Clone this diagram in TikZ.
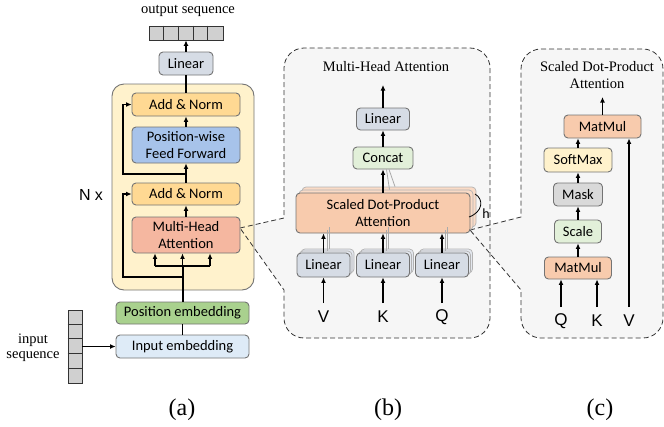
\documentclass[tikz,border=0pt]{standalone}
\usepackage{fontspec}
\setmainfont{Liberation Serif}
\setsansfont{Carlito}
\newfontfamily\arialfont{Liberation Sans}
\usetikzlibrary{arrows.meta,calc}

\definecolor{panelyellow}{HTML}{FFF2CC}
\definecolor{panelgray}{HTML}{F6F6F6}
\definecolor{boxline}{HTML}{747474}
\definecolor{addnorm}{HTML}{FFD993}
\definecolor{ffblue}{HTML}{A7C3EA}
\definecolor{mhared}{HTML}{F5B7A0}
\definecolor{sdpafill}{HTML}{F8CBAD}
\definecolor{sdpaback}{HTML}{FADBC6}
\definecolor{posgreen}{HTML}{A9D18E}
\definecolor{inblue}{HTML}{DEEBF7}
\definecolor{linfill}{HTML}{D6DCE5}
\definecolor{linback}{HTML}{E3E7EE}
\definecolor{lightgreen}{HTML}{E2F0D9}
\definecolor{softyellow}{HTML}{FFF2CC}
\definecolor{maskgray}{HTML}{D9D9D9}
\definecolor{seqgray}{HTML}{D0D0D0}
\definecolor{shadowgray}{HTML}{AAAAAA}

\newcommand\boxfont{\sffamily\fontsize{14.5}{17}\selectfont}
\newcommand\titlefont{\rmfamily\fontsize{14.5}{16}\selectfont}

\begin{document}
\begin{tikzpicture}[x=1pt,y=1pt,
  box/.style={draw=boxline, line width=0.9pt, rounded corners=4pt, inner sep=0pt,
    align=center, font=\boxfont},
  backbox/.style={draw=boxline!55, line width=0.7pt, rounded corners=4pt, inner sep=0pt},
  arr/.style={line width=1.3pt, -{Latex[length=5.5pt,width=5pt]}},
  ln/.style={line width=1.3pt},
  mainln/.style={line width=2pt},
  shadowln/.style={line width=0.8pt, draw=shadowgray},
  seq/.style={draw=black!80, line width=0.8pt, fill=seqgray, inner sep=0pt},
  seqline/.style={draw=black!80, line width=0.8pt},
  panel/.style={draw=black!80, line width=0.8pt, dash pattern=on 5pt off 3pt},
  title/.style={font=\titlefont, inner sep=0pt},
  lbl/.style={font=\arialfont\fontsize{17}{20}\selectfont, inner sep=0pt},
  captionlbl/.style={font=\rmfamily\fontsize{24}{26}\selectfont, inner sep=0pt}]
\useasboundingbox (0,0) rectangle (664,-426);

% ---------- background panels ----------
% scaled dot-product panel with its cone
\fill[panelgray] (470,-230) -- (521,-217) -- (521,-69)
  arc[start angle=180,end angle=90,radius=20] -- (643,-49)
  arc[start angle=90,end angle=0,radius=20] -- (663,-318)
  arc[start angle=0,end angle=-90,radius=20] -- (541,-338)
  arc[start angle=270,end angle=180,radius=20] -- (521,-290) -- cycle;
% multi-head panel with its cone
\fill[panelgray] (240,-228) -- (284,-218) -- (284,-68)
  arc[start angle=180,end angle=90,radius=20] -- (470,-48)
  arc[start angle=90,end angle=0,radius=20] -- (490,-318)
  arc[start angle=0,end angle=-90,radius=20] -- (304,-338)
  arc[start angle=270,end angle=180,radius=20] -- (284,-290) -- cycle;
% encoder stack
\draw[fill=panelyellow, draw=boxline, line width=0.9pt, rounded corners=12pt]
  (112,-84) rectangle (254,-290);
% dashed outlines
\draw[panel] (240,-228) -- (284,-218) -- (284,-68)
  arc[start angle=180,end angle=90,radius=20] -- (470,-48)
  arc[start angle=90,end angle=0,radius=20] -- (490,-318)
  arc[start angle=0,end angle=-90,radius=20] -- (304,-338)
  arc[start angle=270,end angle=180,radius=20] -- (284,-290) -- cycle;
\draw[panel] (470,-230) -- (521,-217) -- (521,-69)
  arc[start angle=180,end angle=90,radius=20] -- (643,-49)
  arc[start angle=90,end angle=0,radius=20] -- (663,-318)
  arc[start angle=0,end angle=-90,radius=20] -- (541,-338)
  arc[start angle=270,end angle=180,radius=20] -- (521,-290) -- cycle;

% ---------- (a) encoder ----------
\node[font=\titlefont, inner sep=0pt] (outlabel) at (188,-11) {output sequence};
\node[seq, minimum width=74pt, minimum height=14pt] (outseq) at (186,-33) {};
\foreach \i in {1,...,4}
  \draw[seqline] ($(outseq.north west)+(\i*14.8,0)$) -- ($(outseq.south west)+(\i*14.8,0)$);

\node[box, fill=linfill, minimum width=54pt, minimum height=23pt] (lina) at (186,-63.5) {Linear};
\node[box, fill=addnorm, minimum width=108pt, minimum height=23pt] (an1) at (186,-104.5) {Add \& Norm};
\node[box, fill=ffblue, minimum width=108pt, minimum height=36pt] (ff) at (186,-145) {Position-wise\\Feed Forward};
\node[box, fill=addnorm, minimum width=108pt, minimum height=22pt] (an2) at (186,-194) {Add \& Norm};
\node[box, fill=mhared, minimum width=108pt, minimum height=36pt] (mha) at (186,-235) {Multi-Head\\Attention};
\node[box, fill=posgreen, minimum width=133pt, minimum height=22pt] (pe) at (182.5,-313) {Position embedding};
\node[box, fill=inblue, minimum width=133pt, minimum height=23pt] (ie) at (182.5,-346.5) {Input embedding};

\node[font=\arialfont\fontsize{16}{18}\selectfont, inner sep=0pt] (nx) at (91,-195) {N x};

\node[seq, minimum width=14pt, minimum height=73pt] (inseq) at (75,-346.5) {};
\foreach \i in {1,...,4}
  \draw[seqline] ($(inseq.north west)+(0,-\i*14.6)$) -- ($(inseq.north east)+(0,-\i*14.6)$);
\node[font=\titlefont, inner sep=0pt, align=center] (inlabel) at (33,-348) {input\\[-1pt]sequence};

% connectors of the encoder
\coordinate (ja) at (155,-266);
\coordinate (jm) at (182.5,-266);
\coordinate (jc) at (210,-266);
\coordinate (r2) at (182.5,-277);
\coordinate (rl2) at (123,-277);
\coordinate (r1) at (186,-174);
\coordinate (rl1) at (123,-174);

\draw[ln] (ie.north) -- (pe.south);
\draw[mainln] (pe.north) -- (jm);
\draw[ln] (ja) -- (jc);
\draw[arr] (ja) -- (ja |- mha.south);
\draw[arr] (jm) -- (jm |- mha.south);
\draw[arr] (jc) -- (jc |- mha.south);
\draw[arr] (r2) -- (rl2) |- (an2.west);
\draw[arr] (mha.north) -- (an2.south);
\draw[arr] (an2.north) -- (ff.south);
\draw[arr] (r1) -- (rl1) |- (an1.west);
\draw[arr] (ff.north) -- (an1.south);
\draw[ln] (an1.north) -- (lina.south);
\draw[arr] (lina.north) -- (outseq.south);
\draw[arr] (inseq.east) -- (ie.west);

% ---------- (b) multi-head attention ----------
\node[title] (mhtitle) at (386,-67) {Multi-Head Attention};
\coordinate (bout) at (383,-85);

\node[box, fill=linfill, minimum width=53pt, minimum height=22pt] (linb) at (383,-119) {Linear};
\node[box, fill=lightgreen, minimum width=60pt, minimum height=22pt] (concat) at (383,-158) {Concat};

% stacked heads behind the attention block
\node[backbox, fill=sdpaback, minimum width=174pt, minimum height=40pt] (sdpa2) at (389,-207) {};
\node[backbox, fill=sdpaback, minimum width=174pt, minimum height=40pt] (sdpa1) at (386,-210) {};
\node[box, fill=sdpafill, minimum width=174pt, minimum height=40pt] (sdpa) at (383,-213) {Scaled Dot-Product\\Attention};

\foreach \n/\x in {lv/323.5, lk/383, lq/442} {
  \node[backbox, fill=linback, minimum width=53pt, minimum height=24pt] (\n b2) at (\x+4,-261) {};
  \node[backbox, fill=linback, minimum width=53pt, minimum height=24pt] (\n b1) at (\x+2,-263) {};
  \node[box, fill=linfill, minimum width=53pt, minimum height=24pt] (\n) at (\x,-265) {Linear};
}

\node[lbl] (tv) at (323.5,-317) {V};
\node[lbl] (tk) at (383,-317) {K};
\node[lbl] (tq) at (442,-317) {Q};

% head brace
\draw[line width=0.8pt] (475,-194) .. controls (484,-199) and (483,-212) .. (469,-217);
\node[font=\sffamily\fontsize{14}{16}\selectfont, inner sep=0pt] (hlabel) at (486,-214) {h};

% connectors of the multi-head block
\draw[shadowln] ($(sdpa1.north)+(3.5,0)$) -- ($(concat.south)+(3.5,0)$);
\draw[shadowln] ($(sdpa2.north)+(6,0)$) -- ($(concat.south)+(6,0)$);
\draw[arr] (sdpa.north) -- (concat.south);
\draw[arr] (concat.north) -- (linb.south);
\draw[arr] (linb.north) -- (bout);
\foreach \n in {lv,lk,lq} {
  \draw[shadowln] ($(\n b1.north)+(1.5,0)$) -- ($(\n b1.north |- sdpa1.south)+(1.5,0)$);
  \draw[shadowln] ($(\n b2.north)+(1.5,0)$) -- ($(\n b2.north |- sdpa2.south)+(1.5,0)$);
  \draw[arr] (\n.north) -- (\n.north |- sdpa.south);
}
\draw[arr] (tv) ++(0,14) -- (lv.south);
\draw[arr] (tk) ++(0,14) -- (lk.south);
\draw[arr] (tq) ++(0,14) -- (lq.south);

% ---------- (c) scaled dot-product attention ----------
\node[title, align=center] (sdtitle) at (597,-75) {Scaled Dot-Product\\[1pt]Attention};
\coordinate (cout) at (602.5,-97);

\node[box, fill=sdpafill, minimum width=77pt, minimum height=23pt] (mm1) at (602.5,-126.5) {MatMul};
\node[box, fill=softyellow, minimum width=68pt, minimum height=24pt] (softmax) at (578,-160) {SoftMax};
\node[box, fill=maskgray, minimum width=49pt, minimum height=23pt] (mask) at (578,-194.5) {Mask};
\node[box, fill=lightgreen, minimum width=47pt, minimum height=23pt] (scale) at (578,-231.5) {Scale};
\node[box, fill=sdpafill, minimum width=67pt, minimum height=22pt] (mm2) at (578,-268) {MatMul};

\node[lbl] (cq) at (561,-321) {Q};
\node[lbl] (ck) at (597,-321) {K};
\node[lbl] (cv) at (629,-321) {V};

\draw[arr] (mm1.north) -- (cout);
\draw[arr] (softmax.north) -- (softmax.north |- mm1.south);
\draw[arr] (mask.north) -- (softmax.south);
\draw[arr] (scale.north) -- (mask.south);
\draw[arr] (mm2.north) -- (scale.south);
\draw[arr] (cq) ++(0,14) -- (cq |- mm2.south);
\draw[arr] (ck) ++(0,14) -- (ck |- mm2.south);
\draw[arr] (cv) ++(0,14) -- (cv |- mm1.south);

% ---------- captions ----------
\node[captionlbl] (capa) at (182,-410) {(a)};
\node[captionlbl] (capb) at (388,-410) {(b)};
\node[captionlbl] (capc) at (600,-410) {(c)};
\end{tikzpicture}
\end{document}
